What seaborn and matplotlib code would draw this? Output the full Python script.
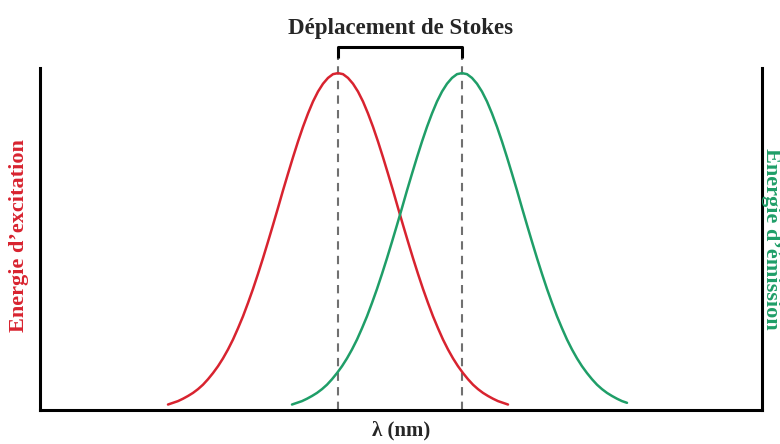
import matplotlib
matplotlib.use("Agg")
import matplotlib.pyplot as plt
import pandas as pd
import seaborn as sns

# Excitation curve (red): position along λ vs energy
red_x = list(range(128, 469, 5))
red_y = [0.016, 0.021, 0.026, 0.033, 0.041, 0.050, 0.061, 0.074, 0.090, 0.108,
         0.128, 0.151, 0.177, 0.206, 0.239, 0.274, 0.313, 0.354, 0.398, 0.444,
         0.492, 0.541, 0.591, 0.642, 0.691, 0.739, 0.785, 0.828, 0.867, 0.902,
         0.931, 0.954, 0.971, 0.982, 0.985, 0.982, 0.971, 0.954, 0.931, 0.902,
         0.867, 0.828, 0.785, 0.739, 0.691, 0.642, 0.591, 0.541, 0.492, 0.444,
         0.398, 0.354, 0.313, 0.274, 0.239, 0.206, 0.177, 0.151, 0.128, 0.108,
         0.090, 0.074, 0.061, 0.050, 0.041, 0.033, 0.026, 0.021, 0.016]

# Emission curve (green)
green_x = list(range(252, 588, 5))
green_y = [0.016, 0.021, 0.026, 0.033, 0.041, 0.050, 0.061, 0.074, 0.090, 0.108,
           0.128, 0.151, 0.177, 0.206, 0.239, 0.274, 0.313, 0.354, 0.398, 0.444,
           0.492, 0.541, 0.591, 0.642, 0.691, 0.739, 0.785, 0.828, 0.867, 0.902,
           0.931, 0.954, 0.971, 0.982, 0.985, 0.982, 0.971, 0.954, 0.931, 0.902,
           0.867, 0.828, 0.785, 0.739, 0.691, 0.642, 0.591, 0.541, 0.492, 0.444,
           0.398, 0.354, 0.313, 0.274, 0.239, 0.206, 0.177, 0.151, 0.128, 0.108,
           0.090, 0.074, 0.061, 0.050, 0.041, 0.033, 0.026, 0.021]

peaks = [298, 422]

title = "Déplacement de Stokes"
x_label = "λ (nm)"
left_label = "Energie d’excitation"
right_label = "Energie d’émission"

RED = "#d8232f"
GREEN = "#1f9e68"

sns.set_style("white")
plt.rcParams["font.family"] = ["Liberation Serif", "DejaVu Serif"]

fig = plt.figure(figsize=(7.8, 4.44), dpi=100)
ax = fig.add_axes([40 / 780, 34 / 444, 722 / 780, 342 / 444])

red_df = pd.DataFrame({"x": red_x, "y": red_y})
green_df = pd.DataFrame({"x": green_x, "y": green_y})
sns.lineplot(data=red_df, x="x", y="y", color=RED, lw=1.8, ax=ax)
sns.lineplot(data=green_df, x="x", y="y", color=GREEN, lw=1.8, ax=ax)

ax.set_xlim(0, 722)
ax.set_ylim(0, 1)

# dashed markers at both maxima, reaching up to the bracket
for p in peaks:
    ax.plot([p, p], [0, 1.03], ls=(0, (4, 3)), color="#707070", lw=1.5,
            clip_on=False, zorder=1)

# Stokes shift bracket
ax.plot([peaks[0], peaks[0], peaks[1], peaks[1]], [1.03, 1.06, 1.06, 1.03],
        color="black", lw=2.2, clip_on=False, solid_capstyle="butt")
ax.text(sum(peaks) / 2, 1.115, title, ha="center", va="center",
        fontsize=16.5, fontweight="bold", clip_on=False)

for s in ["left", "bottom", "right"]:
    ax.spines[s].set_visible(True)
    ax.spines[s].set_color("black")
    ax.spines[s].set_linewidth(2.2)
ax.spines["top"].set_visible(False)

ax.set_xticks([])
ax.set_yticks([])
ax.set_xlabel("")
ax.set_ylabel("")
ax.text(0.5, -0.06, x_label, ha="center", va="center", fontsize=15,
        fontweight="bold", transform=ax.transAxes)

ax.text(-0.029, 0.51, left_label, rotation=90, ha="center", va="center",
        color=RED, fontsize=16, fontweight="bold", transform=ax.transAxes)
ax.text(1.0125, 0.50, right_label, rotation=270, ha="center", va="center",
        color=GREEN, fontsize=16, fontweight="bold", transform=ax.transAxes)

fig.savefig("out.png", dpi=100)
